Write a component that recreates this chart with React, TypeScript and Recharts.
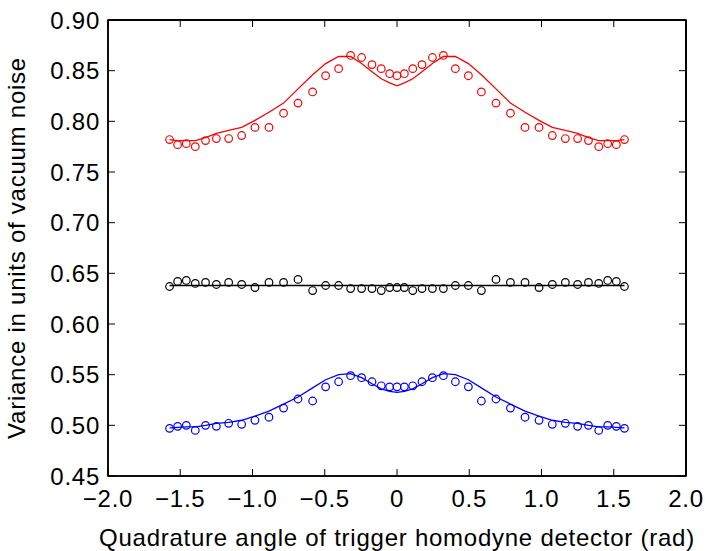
import React from 'react'
import * as Recharts from 'recharts'
import { ComposedChart, Line, XAxis, YAxis, ReferenceLine } from 'recharts'

// quadrature angle (rad), same for all three data sets
const angles = [
  -1.574, -1.518, -1.458, -1.396, -1.325, -1.25, -1.165, -1.075, -0.983, -0.886,
  -0.785, -0.685, -0.584, -0.494, -0.404, -0.321, -0.245, -0.173, -0.109, -0.051,
  0,
  0.051, 0.109, 0.173, 0.245, 0.321, 0.404, 0.494, 0.584, 0.685, 0.785,
  0.886, 0.983, 1.075, 1.165, 1.25, 1.325, 1.396, 1.458, 1.518, 1.574,
]

const redPoints = [
  0.782, 0.777, 0.778, 0.775, 0.781, 0.783, 0.783, 0.786, 0.794, 0.794,
  0.808, 0.818, 0.829, 0.845, 0.852, 0.865, 0.863, 0.856, 0.852, 0.847,
  0.845,
  0.847, 0.852, 0.856, 0.863, 0.865, 0.852, 0.845, 0.829, 0.818, 0.808,
  0.794, 0.794, 0.786, 0.783, 0.783, 0.781, 0.775, 0.778, 0.777, 0.782,
]
const redFit = [
  0.782, 0.781, 0.781, 0.781, 0.784, 0.788, 0.791, 0.794, 0.801, 0.809,
  0.818, 0.832, 0.846, 0.857, 0.864, 0.864, 0.857, 0.849, 0.842, 0.838,
  0.835,
  0.838, 0.842, 0.849, 0.857, 0.864, 0.864, 0.857, 0.846, 0.832, 0.818,
  0.809, 0.801, 0.794, 0.791, 0.788, 0.784, 0.781, 0.781, 0.781, 0.782,
]

const blackPoints = [
  0.637, 0.642, 0.643, 0.640, 0.641, 0.639, 0.641, 0.639, 0.636, 0.641,
  0.641, 0.644, 0.633, 0.638, 0.638, 0.635, 0.635, 0.635, 0.633, 0.636,
  0.636,
  0.636, 0.633, 0.635, 0.635, 0.635, 0.638, 0.638, 0.633, 0.644, 0.641,
  0.641, 0.636, 0.639, 0.641, 0.639, 0.641, 0.640, 0.643, 0.642, 0.637,
]
const blackFit = [
  0.638, 0.638, 0.638, 0.638, 0.638, 0.638, 0.638, 0.638, 0.638, 0.638,
  0.638, 0.638, 0.638, 0.638, 0.638, 0.638, 0.638, 0.638, 0.638, 0.638,
  0.638,
  0.638, 0.638, 0.638, 0.638, 0.638, 0.638, 0.638, 0.638, 0.638, 0.638,
  0.638, 0.638, 0.638, 0.638, 0.638, 0.638, 0.638, 0.638, 0.638, 0.638,
]

const bluePoints = [
  0.497, 0.499, 0.500, 0.495, 0.500, 0.499, 0.502, 0.501, 0.505, 0.508,
  0.517, 0.526, 0.524, 0.538, 0.543, 0.549, 0.547, 0.543, 0.539, 0.538,
  0.538,
  0.538, 0.539, 0.543, 0.547, 0.549, 0.543, 0.538, 0.524, 0.526, 0.517,
  0.508, 0.505, 0.501, 0.502, 0.499, 0.500, 0.495, 0.500, 0.499, 0.497,
]
const blueFit = [
  0.4975, 0.498, 0.4985, 0.4985, 0.500, 0.502, 0.503, 0.505, 0.509, 0.514,
  0.521, 0.528, 0.537, 0.545, 0.550, 0.551, 0.547, 0.541, 0.536, 0.5335,
  0.5325,
  0.5335, 0.536, 0.541, 0.547, 0.551, 0.550, 0.545, 0.537, 0.528, 0.521,
  0.514, 0.509, 0.505, 0.503, 0.502, 0.500, 0.4985, 0.4985, 0.498, 0.4975,
]

const xTicks = [-2, -1.5, -1, -0.5, 0, 0.5, 1, 1.5, 2]
const yTicks = [0.45, 0.5, 0.55, 0.6, 0.65, 0.7, 0.75, 0.8, 0.85, 0.9]

const data = angles.map((x, i) => ({
  x,
  red: redPoints[i],
  redFit: redFit[i],
  black: blackPoints[i],
  blackFit: blackFit[i],
  blue: bluePoints[i],
  blueFit: blueFit[i],
}))

const FONT = '"Liberation Sans", Arial, Helvetica, sans-serif'
const tickStyle = { fill: '#000', fontSize: 24, fontFamily: FONT, letterSpacing: 0.75 }

const fmtX = (v: number) => (v === 0 ? '0' : v.toFixed(1).replace('-', '\u2212'))
const fmtY = (v: number) => v.toFixed(2)
const noTick = () => <g />

const YLabel = (props: any) => {
  const vb = props.viewBox || { x: 0, y: 20, width: 108, height: 456 }
  const cx = vb.x + 25
  const cy = vb.y + vb.height / 2
  return (
    <text
      x={cx}
      y={cy}
      textAnchor="middle"
      transform={`rotate(-90 ${cx} ${cy})`}
      style={{ fontSize: 24, fontFamily: FONT, letterSpacing: 0.75 }}
      fill="#000"
    >
      Variance in units of vacuum noise
    </text>
  )
}

const XLabel = (props: any) => {
  const vb = props.viewBox || { x: 108, y: 476, width: 578, height: 75 }
  return (
    <text
      x={vb.x + vb.width / 2}
      y={vb.y + 70}
      textAnchor="middle"
      style={{ fontSize: 24, fontFamily: FONT, letterSpacing: 0.75 }}
      fill="#000"
    >
      Quadrature angle of trigger homodyne detector (rad)
    </text>
  )
}

// box round the plot area (MATLAB style frame)
const usePlotAreaSafe: () => any = (Recharts as any).usePlotArea || (() => null)
const Frame = () => {
  const area = usePlotAreaSafe()
  if (!area) return null
  return <rect x={area.x} y={area.y} width={area.width} height={area.height} fill="none" stroke="#000" strokeWidth={1.5} />
}

const frame = { stroke: '#000', strokeWidth: 1.5 }
const tickLine = { stroke: '#000', strokeWidth: 1 }

export default function App() {
  return (
    <div style={{ position: 'absolute', left: 0, top: 0, width: 705, height: 551, background: '#fff' }}>
      <ComposedChart width={705} height={551} data={data} margin={{ top: 20, right: 19, left: 0, bottom: 0 }}>
        <XAxis
          dataKey="x"
          type="number"
          domain={[-2, 2]}
          ticks={xTicks}
          tickFormatter={fmtX}
          allowDataOverflow
          height={75}
          tickSize={-7}
          tickMargin={21}
          tick={tickStyle}
          axisLine={frame}
          tickLine={tickLine}
          label={<XLabel />}
        />
        <XAxis
          xAxisId="top"
          dataKey="x"
          orientation="top"
          type="number"
          domain={[-2, 2]}
          ticks={xTicks}
          allowDataOverflow
          height={10}
          mirror
          tickSize={7}
          tick={noTick}
          axisLine={frame}
          tickLine={tickLine}
        />
        <YAxis
          type="number"
          domain={[0.45, 0.9]}
          ticks={yTicks}
          tickFormatter={fmtY}
          allowDataOverflow
          width={108}
          tickSize={-7}
          tickMargin={15}
          tick={tickStyle}
          axisLine={frame}
          tickLine={tickLine}
          label={<YLabel />}
        />
        <YAxis
          yAxisId="right"
          orientation="right"
          type="number"
          domain={[0.45, 0.9]}
          ticks={yTicks}
          allowDataOverflow
          width={10}
          mirror
          tickSize={7}
          tick={noTick}
          axisLine={frame}
          tickLine={tickLine}
        />
        <ReferenceLine y={0.9} stroke="#000" strokeWidth={1.5} ifOverflow="visible" />
        <ReferenceLine x={2} stroke="#000" strokeWidth={1.5} ifOverflow="visible" />
        <Frame />
        <Line xAxisId="top" yAxisId="right" dataKey="redFit" type="linear" stroke="#ff0000" strokeWidth={1.3} dot={false} isAnimationActive={false} />
        <Line xAxisId="top" yAxisId="right" dataKey="blackFit" type="linear" stroke="#000" strokeWidth={1.3} dot={false} isAnimationActive={false} />
        <Line xAxisId="top" yAxisId="right" dataKey="blueFit" type="linear" stroke="#0000ff" strokeWidth={1.3} dot={false} isAnimationActive={false} />
        <Line dataKey="red" stroke="none" dot={{ r: 3.8, fill: 'none', stroke: '#ff0000', strokeWidth: 1.2 }} activeDot={false} isAnimationActive={false} />
        <Line dataKey="black" stroke="none" dot={{ r: 3.8, fill: 'none', stroke: '#000', strokeWidth: 1.2 }} activeDot={false} isAnimationActive={false} />
        <Line dataKey="blue" stroke="none" dot={{ r: 3.8, fill: 'none', stroke: '#0000ff', strokeWidth: 1.2 }} activeDot={false} isAnimationActive={false} />
      </ComposedChart>
    </div>
  )
}
